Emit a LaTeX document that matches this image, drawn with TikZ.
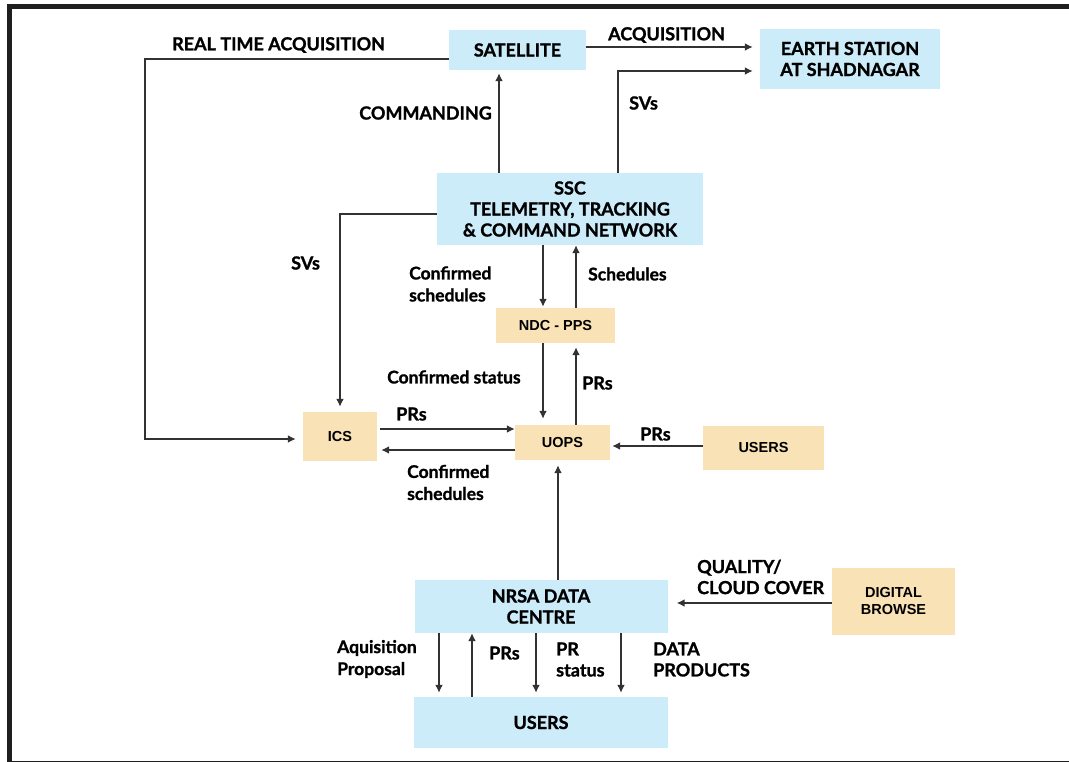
\documentclass[tikz,border=0pt]{standalone}
\usepackage{fontspec}
\setmainfont{Lato}[BoldFeatures={FakeBold=1.2}]
\newfontfamily\boxfont{Liberation Sans}
\usepackage{xcolor}
\usepackage{tikz}
\usetikzlibrary{arrows.meta,calc}

\definecolor{skyblue}{RGB}{204,236,250}
\definecolor{sand}{RGB}{248,226,182}
\definecolor{ink}{RGB}{50,50,50}
\newcommand\diagcaps{\fontsize{18}{21}\selectfont\bfseries}
\newcommand\diaglower{\fontsize{17.5}{22}\selectfont\bfseries}
\newcommand\tanfont{\boxfont\fontsize{14.5}{17}\selectfont\bfseries}

\begin{document}
\begin{tikzpicture}[x=1pt,y=-1pt,
    skybox/.style={fill=skyblue,inner sep=0pt,align=center,font=\diagcaps},
    sandbox/.style={fill=sand,inner sep=0pt,align=center,font=\tanfont},
    flow/.style={draw=ink,line width=1.8pt,-{Latex[length=8pt,width=8pt]},shorten >=3pt},
    lbl/.style={inner sep=0pt,anchor=west,align=left,font=\diagcaps},
    small/.style={inner sep=0pt,anchor=west,align=left,font=\diaglower}]
				\useasboundingbox (0,0) rectangle (1069,762);
				\draw[line width=5pt,black!88] (9.5,6.5) rectangle (1080,763.5);
				% boxes
				\node[skybox,minimum width=137pt,minimum height=40pt] (sat) at (517.5,50) {SATELLITE};
				\node[skybox,minimum width=180pt,minimum height=60pt] (earth) at (850,59) {EARTH STATION\\AT SHADNAGAR};
				\node[skybox,minimum width=266pt,minimum height=72pt] (ssc) at (570,209) {SSC\\TELEMETRY, TRACKING\\\& COMMAND NETWORK};
				\node[sandbox,minimum width=119pt,minimum height=35pt] (ndc) at (555.5,325.5) {NDC - PPS};
				\node[sandbox,minimum width=74pt,minimum height=49pt] (ics) at (340,436.5) {ICS};
				\node[sandbox,minimum width=95pt,minimum height=35pt] (uops) at (562.5,442.5) {UOPS};
				\node[sandbox,minimum width=121pt,minimum height=44pt] (users) at (763.5,448) {USERS};
				\node[skybox,minimum width=253pt,minimum height=53pt] (nrsa) at (541,606.5) {NRSA DATA\\CENTRE};
				\node[sandbox,minimum width=123pt,minimum height=67pt] (browse) at (893.5,601.5) {DIGITAL\\BROWSE};
				\node[skybox,minimum width=254pt,minimum height=51pt] (enduser) at (541,722.5) {USERS};
				% links round the satellite
				\draw[flow,shorten >=7pt] ($(sat.west)+(0,9)$) -- ++(-304,0) |- ($(ics.west)+(0,2.5)$);
				\draw[flow,shorten >=7pt] ($(sat.east)+(0,-3)$) -- ($(sat.east -| earth.west)+(0,-3)$);
				\draw[flow,shorten >=7pt] (ssc.north -| 618,0) |- ($(earth.west)+(0,12)$);
				\draw[flow] (ssc.north -| 499,0) -- (sat.south -| 499,0);
				\draw[flow,shorten >=5pt] ($(ssc.west)+(0,5)$) -| (ics.north);
				% scheduling chain
				\draw[flow,shorten >=1pt] (ssc.south -| 543,0) -- (ndc.north -| 543,0);
				\draw[flow,shorten >=0pt] (ndc.north -| 576,0) -- (ssc.south -| 576,0);
				\draw[flow,shorten >=6pt] (ndc.south -| 543,0) -- (uops.north -| 543,0);
				\draw[flow,shorten >=4pt] (uops.north -| 576,0) -- (ndc.south -| 576,0);
				\draw[flow,shorten >=0pt] ($(ics.east)+(3,-7.5)$) -- ($(ics.east -| uops.west)+(0,-7.5)$);
				\draw[flow,shorten >=4pt] ($(uops.west)+(0,7.5)$) -- ($(uops.west -| ics.east)+(0,7.5)$);
				\draw[flow,shorten >=2pt] ($(users.west)+(0,-2)$) -- ($(users.west -| uops.east)+(0,-2)$);
				% data centre
				\draw[flow,shorten >=5pt] (nrsa.north -| 558,0) -- (uops.south -| 558,0);
				\draw[flow,shorten >=9pt] ($(browse.west)+(0,1.5)$) -- ($(browse.west -| nrsa.east)+(0,1.5)$);
				\draw[flow,shorten >=4pt] (nrsa.south -| 439,0) -- (enduser.north -| 439,0);
				\draw[flow,shorten >=0pt] (enduser.north -| 472,0) -- (nrsa.south -| 472,0);
				\draw[flow,shorten >=4pt] (nrsa.south -| 536,0) -- (enduser.north -| 536,0);
				\draw[flow,shorten >=4pt] (nrsa.south -| 621,0) -- (enduser.north -| 621,0);
				% labels
				\node[lbl] (realtime) at (172,45) {REAL TIME ACQUISITION};
				\node[lbl] (acq) at (608,35) {ACQUISITION};
				\node[lbl] (svsearth) at (629,103) {SVs};
				\node[lbl,anchor=east] (cmd) at (492,113) {COMMANDING};
				\node[lbl] (svsics) at (291,263) {SVs};
				\node[small] (confsched) at (409,284) {Confirmed\\schedules};
				\node[small] (sched) at (588,274) {Schedules};
				\node[small] (confstat) at (387,377) {Confirmed status};
				\node[lbl] (prsndc) at (582,383) {PRs};
				\node[lbl] (prsics) at (396,414) {PRs};
				\node[lbl] (prsusers) at (640,434) {PRs};
				\node[small] (confsched2) at (407,482.5) {Confirmed\\schedules};
				\node[lbl] (quality) at (697,577) {QUALITY/\\CLOUD COVER};
				\node[small] (aqprop) at (337,659) {Aquisition\\Proposal};
				\node[lbl] (prsnrsa) at (489,653) {PRs};
				\node[lbl] (prstat) at (556,659.5) {PR\\status};
				\node[lbl] (dataprod) at (653,659.5) {DATA\\PRODUCTS};
\end{tikzpicture}
\end{document}
